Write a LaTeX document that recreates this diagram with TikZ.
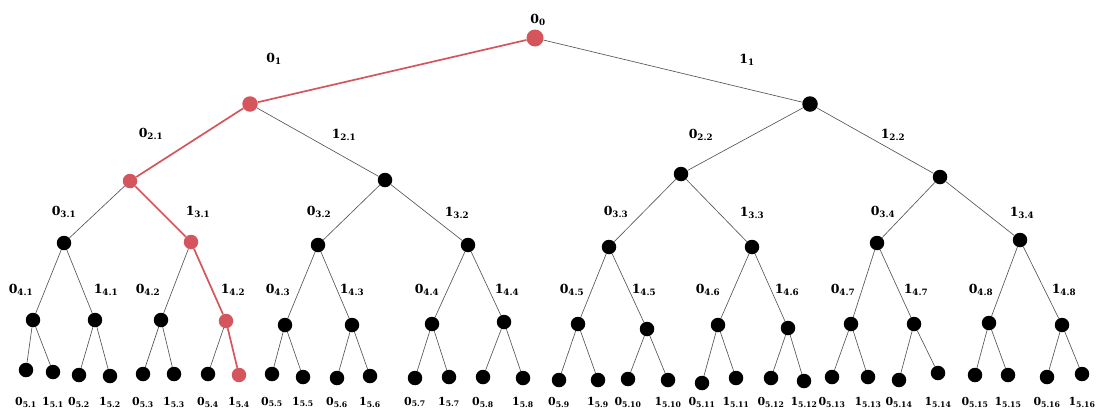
\documentclass[tikz,border=0pt]{standalone}
\usepackage{fontspec}
\setmainfont{DejaVu Serif}
\definecolor{pathred}{RGB}{212,86,92}
\definecolor{edgegray}{RGB}{85,85,85}
\newcommand\bitlab[2]{#1\textsubscript{#2}}
\begin{document}
\begin{tikzpicture}[x=1pt,y=-1pt,
  nd/.style={circle,fill=black,inner sep=0pt,minimum size=14.5pt},
  rnd/.style={nd,fill=pathred},
  ln/.style={draw=edgegray,line width=0.65pt},
  rln/.style={draw=pathred,line width=1.7pt},
  lab/.style={font=\fontsize{12.5}{15}\selectfont\bfseries,inner sep=0pt},
  llab/.style={font=\fontsize{11}{13}\selectfont\bfseries,inner sep=0pt}]
\useasboundingbox (0,0) rectangle (1109,413);
\coordinate (base) at (0,402);
% level 0-3
\node[rnd,minimum size=17pt] (r) at (535,38) {};
\node[rnd,minimum size=15.5pt] (a1) at (250,104) {};
\node[nd,minimum size=15.5pt] (a2) at (810,104) {};
\node[rnd] (b1) at (130,181) {};
\node[nd] (b2) at (385,180) {};
\node[nd] (b3) at (681,174) {};
\node[nd] (b4) at (940,177) {};
\node[nd] (c1) at (64,243) {};
\node[rnd] (c2) at (191,242) {};
\node[nd] (c3) at (318,245) {};
\node[nd] (c4) at (468,245) {};
\node[nd] (c5) at (609,247) {};
\node[nd] (c6) at (752,247) {};
\node[nd] (c7) at (877,243) {};
\node[nd] (c8) at (1020,240) {};
% level 4
\foreach \i/\x/\y in {1/33/320,2/95/320,3/161/320,5/285/325,6/352/325,7/432/324,8/504/322,
  9/578/324,10/647/329,11/718/325,12/788/328,13/851/324,14/914/324,15/989/323,16/1062/325}
  \node[nd] (d\i) at (\x,\y) {};
\node[rnd] (d4) at (226,321) {};
% level 5
\foreach \i/\x/\y in {1/26/370,2/53/372,3/79/375,4/110/376,5/143/374,6/174/374,7/208/374,
  9/272/374,10/303/377,11/337/378,12/370/376,13/415/378,14/449/377,15/483/377,16/523/378,
  17/559/380,18/598/380,19/628/379,20/668/380,21/702/383,22/736/378,23/771/378,24/804/381,
  25/832/377,26/868/377,27/899/380,28/938/373,29/975/375,30/1008/375,31/1047/377,32/1082/374}
  \node[nd] (e\i) at (\x,\y) {};
\node[rnd] (e8) at (239,375) {};
% edges
\foreach \p/\c in {r/a2,a1/b2,a2/b3,a2/b4,b1/c1,b2/c3,b2/c4,b3/c5,b3/c6,b4/c7,b4/c8,
  c1/d1,c1/d2,c2/d3,c3/d5,c3/d6,c4/d7,c4/d8,c5/d9,c5/d10,c6/d11,c6/d12,c7/d13,c7/d14,c8/d15,c8/d16}
  \draw[ln] (\p) -- (\c);
\foreach \k in {1,...,16}{
  \pgfmathtruncatemacro\ea{2*\k-1}
  \pgfmathtruncatemacro\eb{2*\k}
  \ifnum\k=4 \draw[ln] (d\k) -- (e\ea); \else \draw[ln] (d\k) -- (e\ea); \draw[ln] (d\k) -- (e\eb); \fi
}
\draw[rln] (r) -- (a1);
\draw[rln] (a1) -- (b1);
\draw[rln] (b1) -- (c2);
\draw[rln] (c2) -- (d4);
\draw[rln] (d4) -- (e8);
% edge labels
\node[lab] (l0) at (538,20) {\bitlab{0}{0}};
\node[lab] (l01) at (274,59) {\bitlab{0}{1}};
\node[lab] (l11) at (747,60) {\bitlab{1}{1}};
\node[lab] (l021) at (151,134) {\bitlab{0}{2.1}};
\node[lab] (l121) at (344,135) {\bitlab{1}{2.1}};
\node[lab] (l022) at (701,135) {\bitlab{0}{2.2}};
\node[lab] (l122) at (893,135) {\bitlab{1}{2.2}};
\node[lab] (l031) at (64,212) {\bitlab{0}{3.1}};
\node[lab] (l131) at (198,212) {\bitlab{1}{3.1}};
\node[lab] (l032) at (319,212) {\bitlab{0}{3.2}};
\node[lab] (l132) at (457,213) {\bitlab{1}{3.2}};
\node[lab] (l033) at (616,212) {\bitlab{0}{3.3}};
\node[lab] (l133) at (752,213) {\bitlab{1}{3.3}};
\node[lab] (l034) at (883,212) {\bitlab{0}{3.4}};
\node[lab] (l134) at (1022,213) {\bitlab{1}{3.4}};
\foreach \k/\xa/\xb in {1/21/106,2/148/233,3/278/352,4/427/507,5/572/644,6/708/787,7/843/916,8/981/1064}{
  \node[lab] (l04\k) at (\xa,290) {\bitlab{0}{4.\k}};
  \node[lab] (l14\k) at (\xb,290) {\bitlab{1}{4.\k}};
}
% leaf labels
\foreach \k in {1,...,16}{
  \pgfmathtruncatemacro\ea{2*\k-1}
  \pgfmathtruncatemacro\eb{2*\k}
  \node[llab] (m0\k) at (e\ea |- base) {\bitlab{0}{5.\k}};
  \node[llab] (m1\k) at (e\eb |- base) {\bitlab{1}{5.\k}};
}
\end{tikzpicture}
\end{document}
